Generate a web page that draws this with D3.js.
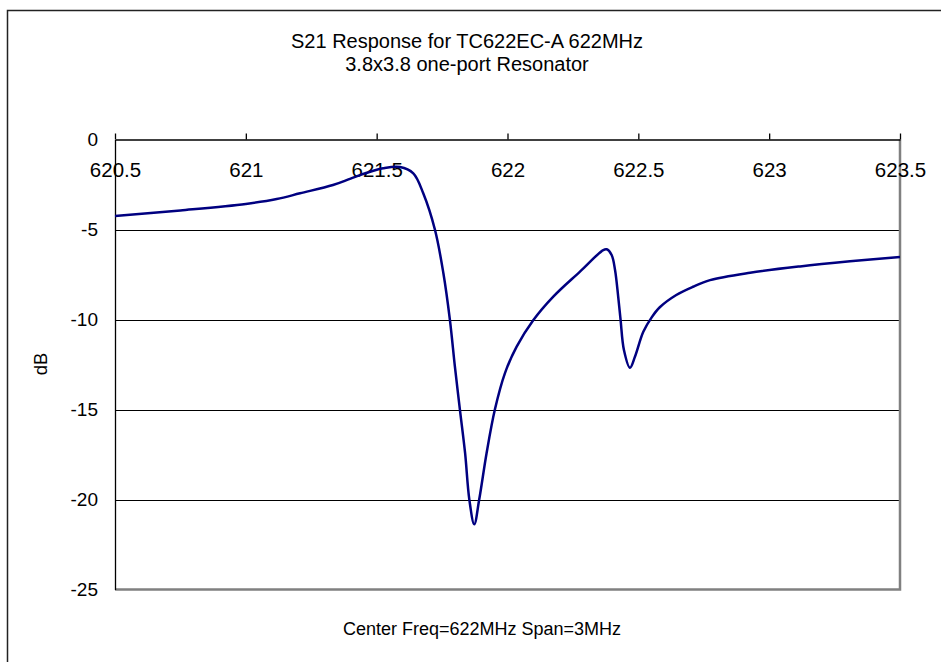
<!DOCTYPE html>
<html><head><meta charset="utf-8">
<script src="https://cdn.jsdelivr.net/npm/d3@7"></script>
<style>body{margin:0;background:#fff}svg{display:block;font-family:"Liberation Sans",Arial,sans-serif}</style>
</head><body><svg id="c" width="941" height="662"></svg>
<script>
const titleLines = ["S21 Response for TC622EC-A 622MHz", "3.8x3.8 one-port Resonator"];
const xLabel = "Center Freq=622MHz Span=3MHz";
const yLabel = "dB";
const xTicks = [620.5, 621, 621.5, 622, 622.5, 623, 623.5];
const yTicks = [0, -5, -10, -15, -20, -25];
const freq = [620.5, 620.75, 621.0, 621.118, 621.207, 621.333, 621.398, 621.462, 621.525, 621.589, 621.64, 621.678, 621.723, 621.755, 621.78, 621.799, 621.818, 621.838, 621.854, 621.873, 621.892, 621.92, 621.952, 621.99, 622.035, 622.099, 622.175, 622.277, 622.366, 622.379, 622.398, 622.411, 622.423, 622.432, 622.445, 622.468, 622.487, 622.519, 622.551, 622.582, 622.645, 622.709, 622.774, 622.927, 623.118, 623.309, 623.5];
const s21 = [-4.25, -3.94, -3.58, -3.31, -2.99, -2.53, -2.19, -1.85, -1.6, -1.53, -1.88, -2.99, -5.03, -7.43, -10.03, -12.62, -14.99, -17.43, -19.99, -21.38, -19.99, -17.43, -14.99, -12.99, -11.51, -10.03, -8.73, -7.34, -6.14, -6.1, -6.42, -7.25, -8.73, -9.99, -11.69, -12.68, -12.07, -10.68, -9.88, -9.32, -8.64, -8.18, -7.81, -7.4, -7.05, -6.77, -6.53];

const svg = d3.select("#c");
const L = 115, R = 900, T = 139.5, B = 589.5;
const x = d3.scaleLinear().domain([620.5, 623.5]).range([L, R]);
const y = d3.scaleLinear().domain([0, -25]).range([T, B]);
const fmt = d => String(d);

// outer frame
svg.append("rect").attr("x", 7.5).attr("y", 10.5).attr("width", 1000).attr("height", 1000)
  .attr("fill", "none").attr("stroke", "#222").attr("stroke-width", 1.5);

// title
svg.append("text").attr("x", 467).attr("y", 48).attr("text-anchor", "middle")
  .attr("font-size", 20).text(titleLines[0]);
svg.append("text").attr("x", 467).attr("y", 71).attr("text-anchor", "middle")
  .attr("font-size", 20).text(titleLines[1]);

// gridlines
svg.append("g").selectAll("line").data(yTicks.filter(d => d !== 0 && d !== -25)).join("line")
  .attr("x1", L).attr("x2", R).attr("y1", d => Math.round(y(d)) + 0.5).attr("y2", d => Math.round(y(d)) + 0.5)
  .attr("stroke", "#000").attr("stroke-width", 1);

// plot border (grey right & bottom)
svg.append("path").attr("d", `M${L},${B} H${R} V${T}`).attr("fill", "none")
  .attr("stroke", "#808080").attr("stroke-width", 2.5);

// top axis
const xa = svg.append("g").attr("transform", `translate(0,${T})`)
  .call(d3.axisTop(x).tickValues(xTicks).tickSize(6).tickSizeOuter(0).tickFormat(fmt));
xa.select(".domain").attr("stroke", "#000").attr("stroke-width", 1.3);
xa.selectAll(".tick line").attr("stroke", "#000").attr("stroke-width", 1.3);
xa.selectAll(".tick text").attr("font-size", 20.5).attr("fill", "#000").attr("font-family", "Liberation Sans, Arial, sans-serif")
  .attr("y", 37).attr("dy", 0);

// left axis
const ya = svg.append("g").attr("transform", `translate(${L},0)`)
  .call(d3.axisLeft(y).tickValues(yTicks).tickSize(0).tickPadding(17).tickFormat(fmt));
ya.select(".domain").attr("stroke", "#000").attr("stroke-width", 1.3);
ya.selectAll(".tick text").attr("font-size", 19).attr("fill", "#000").attr("font-family", "Liberation Sans, Arial, sans-serif");

// data line
svg.append("path").datum(freq.map((f, i) => [f, s21[i]]))
  .attr("d", d3.line().x(d => x(d[0])).y(d => y(d[1])).curve(d3.curveCatmullRom.alpha(0.5)))
  .attr("fill", "none").attr("stroke", "#000080").attr("stroke-width", 2.5).attr("stroke-linejoin", "round");

// axis titles
svg.append("text").attr("x", 482).attr("y", 635).attr("text-anchor", "middle").attr("font-size", 18).text(xLabel);
svg.append("text").attr("transform", "translate(47,364) rotate(-90)").attr("text-anchor", "middle")
  .attr("font-size", 18.5).text(yLabel);
</script></body></html>
